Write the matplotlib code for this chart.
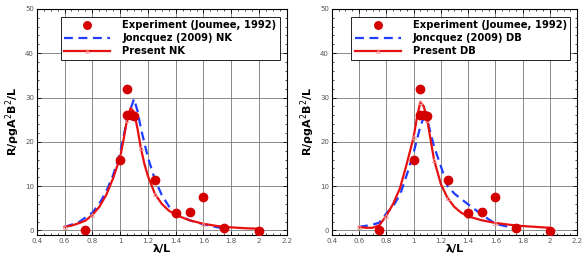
import matplotlib
matplotlib.use("Agg")
import matplotlib.pyplot as plt
from matplotlib.ticker import MultipleLocator

# experiment (same on both panels)
exp_x = [0.75, 1.0, 1.05, 1.05, 1.075, 1.1, 1.25, 1.4, 1.5, 1.6, 1.75, 2.0]
exp_y = [0.0, 16.0, 32.0, 26.0, 26.0, 25.8, 11.5, 4.0, 4.2, 7.6, 0.5, -0.2]

# Joncquez NK
jnk_x = [0.6, 0.7, 0.8, 0.85, 0.9, 0.95, 1.0, 1.05, 1.1, 1.125, 1.15, 1.2, 1.25, 1.3, 1.35, 1.4, 1.5, 1.6, 1.72]
jnk_y = [0.8, 1.8, 4.0, 6.0, 8.8, 12.5, 17.5, 25.0, 29.7, 27.0, 23.0, 16.5, 11.5, 8.0, 5.5, 3.8, 2.3, 1.4, 0.6]

# Present NK
pnk_x = [0.6, 0.65, 0.7, 0.75, 0.8, 0.85, 0.9, 0.95, 1.0, 1.025, 1.05, 1.075, 1.1, 1.125,
         1.15, 1.175, 1.2, 1.25, 1.3, 1.35, 1.4, 1.5, 1.6, 1.7, 1.8, 1.9, 2.0]
pnk_y = [0.8, 1.1, 1.6, 2.2, 3.5, 5.3, 8.0, 11.8, 16.5, 20.5, 25.0, 27.6, 26.8, 23.0,
         18.5, 15.0, 12.3, 8.3, 6.0, 4.5, 3.5, 2.3, 1.5, 1.0, 0.7, 0.5, 0.4]

# Joncquez DB
jdb_x = [0.6, 0.7, 0.75, 0.8, 0.85, 0.9, 0.95, 1.0, 1.05, 1.075, 1.1, 1.125, 1.15, 1.2,
         1.25, 1.3, 1.4, 1.5, 1.6, 1.7]
jdb_y = [0.8, 1.3, 1.8, 3.8, 5.5, 8.0, 12.5, 17.5, 23.5, 25.5, 25.0, 22.0, 19.0, 14.5,
         10.0, 8.3, 5.9, 3.6, 1.5, 0.8]

# Present DB
pdb_x = [0.6, 0.65, 0.7, 0.75, 0.8, 0.85, 0.9, 0.95, 1.0, 1.025, 1.05, 1.075, 1.1, 1.125,
         1.15, 1.2, 1.25, 1.3, 1.35, 1.4, 1.5, 1.6, 1.7, 1.8, 1.9, 2.0]
pdb_y = [0.8, 0.6, 0.6, 1.2, 3.3, 6.0, 9.5, 15.0, 21.0, 25.5, 29.0, 28.0, 25.0, 20.5,
         16.0, 10.5, 7.3, 5.3, 4.0, 3.2, 2.3, 1.7, 1.3, 1.0, 0.8, 0.6]

# triangles on the present curves sit at the computed points
tri_x = [0.6, 0.8, 1.0, 1.05, 1.1, 1.15, 1.25, 1.4, 1.6, 1.75, 2.0]

panels = [
    (jnk_x, jnk_y, pnk_x, pnk_y, "NK", [0.063, 0.100, 0.429, 0.866]),
    (jdb_x, jdb_y, pdb_x, pdb_y, "DB", [0.569, 0.100, 0.421, 0.866]),
]

fig = plt.figure(figsize=(5.83, 2.61), dpi=100)

for jx, jy, px, py, tag, rect in panels:
    ax = fig.add_axes(rect)
    ax.plot(exp_x, exp_y, "o", color="#d40000", markersize=6, zorder=4,
            label="Experiment (Joumee, 1992)")
    ax.plot(jx, jy, "--", color="#1f3cff", lw=1.6, dashes=(4, 2.5), zorder=3,
            label="Joncquez (2009) " + tag)
    mk = [i for i, v in enumerate(px) if v in tri_x]
    ax.plot(px, py, "-", color="#e81010", lw=1.6, marker="^", markersize=3,
            markevery=mk, markerfacecolor="none", markeredgecolor="#f4a0a0",
            markeredgewidth=0.6, zorder=3, label="Present " + tag)
    ax.set_xlim(0.4, 2.2)
    ax.set_ylim(-1, 50)
    ax.xaxis.set_minor_locator(MultipleLocator(0.05))
    ax.yaxis.set_major_locator(MultipleLocator(10))
    ax.yaxis.set_minor_locator(MultipleLocator(2))
    ax.set_xticks([0.4, 0.6, 0.8, 1.0, 1.2, 1.4, 1.6, 1.8, 2.0, 2.2])
    ax.set_xticklabels(["0.4", "0.6", "0.8", "1", "1.2", "1.4", "1.6", "1.8", "2", "2.2"])
    ax.tick_params(which="both", direction="in", top=True, right=True,
                   labelsize=5, labelcolor="#555555", pad=2)
    ax.tick_params(which="major", length=3, width=0.6)
    ax.tick_params(which="minor", length=1.5, width=0.5)
    ax.grid(True, which="major", color="#777777", lw=0.6)
    ax.set_axisbelow(True)
    for s in ax.spines.values():
        s.set_linewidth(0.8)
    ax.set_xlabel("λ/L", fontsize=8, fontweight="bold", labelpad=0)
    ax.set_ylabel("R/ρgA$^2$B$^2$/L", fontsize=8, fontweight="bold", labelpad=2)
    leg = ax.legend(loc="upper right", bbox_to_anchor=(0.992, 0.988),
                    prop={"weight": "bold", "size": 7.2}, frameon=True, fancybox=False,
                    framealpha=1, edgecolor="black", handlelength=4.6,
                    borderpad=0.35, labelspacing=0.3, handletextpad=1.2, markerscale=0.9)
    leg.get_frame().set_linewidth(0.6)

fig.savefig("out.png", dpi=100)
